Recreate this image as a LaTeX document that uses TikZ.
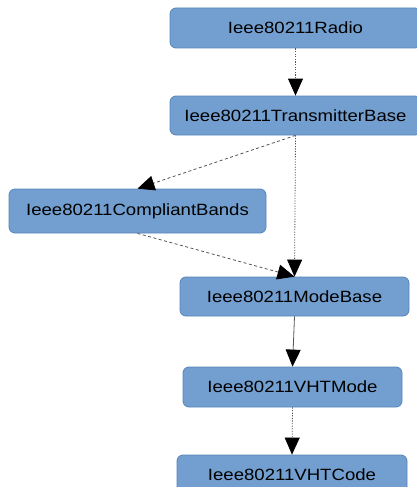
\documentclass[tikz,border=0pt]{standalone}
\usepackage{fontspec}
\setmainfont{Liberation Sans}[FakeStretch=1.14]
\usetikzlibrary{arrows.meta}

\definecolor{boxfill}{HTML}{729FCF}
\definecolor{boxline}{HTML}{5684BA}
\definecolor{edgegray}{HTML}{555555}

\tikzset{
  cls/.style={draw=boxline, line width=0.8pt, fill=boxfill, rounded corners=6pt,
    inner sep=0pt, font=\fontsize{16.3}{18}\selectfont, text=black},
  edge/.style={edgegray, line width=0.8pt,
    -{Triangle[length=17pt, width=15pt, fill=black, color=black]}},
  dotedge/.style={edge, dash pattern=on 1.2pt off 1.4pt},
  dashedge/.style={edge, dash pattern=on 3pt off 2.5pt},
}

\begin{document}
\begin{tikzpicture}[x=1pt, y=-1pt]
  \useasboundingbox (0,0) rectangle (417,487);
  \clip (0,0) rectangle (417,487);

  \node[cls, minimum width=251pt, minimum height=40pt] (radio) at (295.5,28) {Ieee80211Radio};
  \node[cls, minimum width=251pt, minimum height=39pt] (txbase) at (295.5,115.5) {Ieee80211TransmitterBase};
  \node[cls, minimum width=257pt, minimum height=44pt] (bands) at (137.5,211) {Ieee80211CompliantBands};
  \node[cls, minimum width=229pt, minimum height=39pt] (modebase) at (294.5,296.5) {Ieee80211ModeBase};
  \node[cls, minimum width=219pt, minimum height=40pt] (vhtmode) at (292.5,387) {Ieee80211VHTMode};
  \node[cls, minimum width=230pt, minimum height=40pt] (vhtcode) at (292,475) {Ieee80211VHTCode};

  \draw[dotedge] (radio.south) -- (txbase.north);
  \draw[dashedge] (txbase.south) -- (bands.north);
  \draw[dotedge] (txbase.south) -- (modebase.north);
  \draw[dashedge] (bands.south) -- (modebase.north);
  \draw[edge] (modebase.south) -- (vhtmode.north);
  \draw[dotedge] (vhtmode.south) -- (vhtcode.north);
\end{tikzpicture}
\end{document}
